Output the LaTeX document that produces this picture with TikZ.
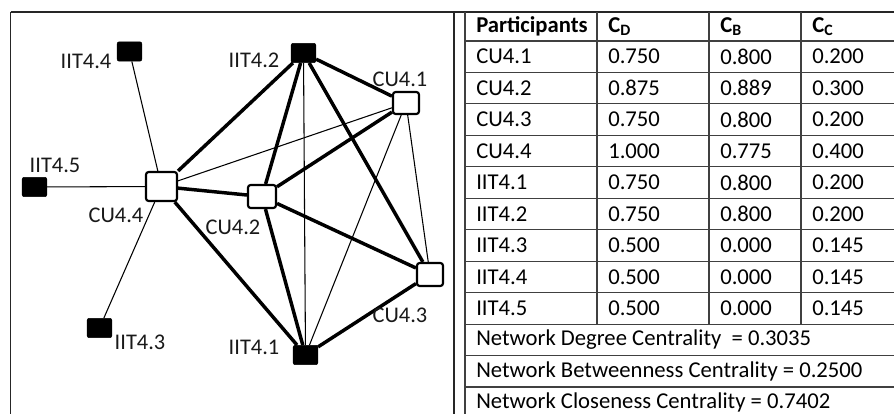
\documentclass[tikz,border=0pt]{standalone}
\usepackage{fontspec}
\setmainfont{Carlito}
\begin{document}
\begin{tikzpicture}[x=0.75pt,y=-0.75pt,
  blk/.style={rectangle, draw=black, fill=black, rounded corners=1.5pt, minimum width=18.5pt, minimum height=14.5pt, inner sep=0pt},
  wht/.style={rectangle, draw=black, fill=white, line width=1.6pt, rounded corners=2pt, inner sep=0pt},
  strongtie/.style={line width=2.6pt},
  weaktie/.style={line width=0.8pt},
  lbl/.style={inner sep=0pt, font=\fontsize{16.8}{20}\selectfont, text=black!90},
  cell/.style={inner sep=0pt, anchor=west, font=\fontsize{17}{20}\selectfont},
  frame/.style={line width=1.2pt, draw=black!85},
  grid/.style={line width=0.8pt, draw=black!75}
]
\useasboundingbox (0,0) rectangle (894,414);
\fill[white] (0,0) rectangle (894,414);

% ---- frames ----
\draw[frame, line width=1.5pt] (10.5,11.7) -- (894,11.7);
\draw[frame] (10.5,11.7) -- (10.5,414);
\draw[frame] (454,11.7) -- (454,414);

% ---- graph nodes ----
\node[blk] (iit44) at (129.5,51.5) {};
\node[blk] (iit42) at (303.5,53) {};
\node[wht, minimum width=19.5pt, minimum height=16.5pt] (cu41) at (406,103) {};
\node[blk] (iit45) at (34.5,187) {};
\node[wht, minimum width=23.25pt, minimum height=21.75pt] (cu44) at (161.5,186.5) {};
\node[wht, minimum width=21pt, minimum height=17.25pt] (cu42) at (262,196.5) {};
\node[wht, minimum width=19.5pt, minimum height=17.25pt] (cu43) at (430,274.5) {};
\node[blk] (iit43) at (99.5,328) {};
\node[blk] (iit41) at (305.5,355) {};

% ---- edges ----
\draw[weaktie] (iit44) -- (cu44);
\draw[weaktie] (iit45) -- (cu44);
\draw[weaktie] (iit43) -- (cu44);
\draw[weaktie] (cu44) -- (cu41);
\draw[weaktie] (iit42) -- (iit41);
\draw[weaktie] (cu41) -- (iit41);
\draw[weaktie] (cu41) -- (cu43);
\draw[strongtie] (cu44) -- (iit42);
\draw[strongtie] (cu44) -- (cu42);
\draw[strongtie] (cu44) -- (iit41);
\draw[strongtie] (iit42) -- (cu42);
\draw[strongtie] (iit42) -- (cu43);
\draw[strongtie] (iit42) -- (cu41);
\draw[strongtie] (cu41) -- (cu42);
\draw[strongtie] (cu42) -- (iit41);
\draw[strongtie] (cu42) -- (cu43);
\draw[strongtie] (cu43) -- (iit41);

% ---- labels ----
\node[lbl] (liit44) at (86,61) {IIT4.4};
\node[lbl] (liit42) at (254,60) {IIT4.2};
\node[lbl] (lcu41) at (400,79) {CU4.1};
\node[lbl] (liit45) at (55,165) {IIT4.5};
\node[lbl] (lcu44) at (116,215) {CU4.4};
\node[lbl] (lcu42) at (233,227) {CU4.2};
\node[lbl] (lcu43) at (400,315) {CU4.3};
\node[lbl] (liit43) at (140,342) {IIT4.3};
\node[lbl] (liit41) at (254,347) {IIT4.1};

% ---- table grid ----
\draw[grid] (465,11.7) -- (465,414);
\foreach \yy in {41,72.5,103.9,135.4,166.8,198.3,229.7,261.2,292.6,324.1,355.5,387}
  \draw[grid] (465,\yy) -- (894,\yy);
\foreach \xx in {597,709,801}
  \draw[grid] (\xx,11.7) -- (\xx,324.1);

% ---- table text ----
\node[cell] (h1) at (476,26.4) {\textbf{Participants}};
\node[cell] (h2) at (608,26.4) {\textbf{C\textsubscript{D}}};
\node[cell] (h3) at (720,26.4) {\textbf{C\textsubscript{B}}};
\node[cell] (h4) at (812,26.4) {\textbf{C\textsubscript{C}}};

\foreach \nm/\cd/\cb/\cc [count=\k] in {CU4.1/0.750/0.800/0.200, CU4.2/0.875/0.889/0.300, CU4.3/0.750/0.800/0.200, CU4.4/1.000/0.775/0.400, IIT4.1/0.750/0.800/0.200, IIT4.2/0.750/0.800/0.200, IIT4.3/0.500/0.000/0.145, IIT4.4/0.500/0.000/0.145, IIT4.5/0.500/0.000/0.145}{
  \pgfmathsetmacro{\ry}{41+31.45*(\k-0.5)}
  \node[cell] (p\k) at (476,\ry) {\nm};
  \node[cell] (d\k) at (608,\ry) {\cd};
  \node[cell] (b\k) at (720,\ry) {\cb};
  \node[cell] (c\k) at (812,\ry) {\cc};
}
\node[cell] (ndc) at (476,339.8) {Network Degree Centrality \ = 0.3035};
\node[cell] (nbc) at (476,371.2) {Network Betweenness Centrality = 0.2500};
\node[cell] (ncc) at (476,402.7) {Network Closeness Centrality = 0.7402};
\end{tikzpicture}
\end{document}
